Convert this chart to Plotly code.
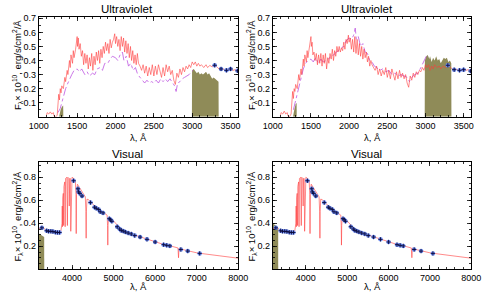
import plotly.graph_objects as go

# ---------------- Ultraviolet, left ----------------
uv1_red_wl = [1100,1110,1130,1150,1170,1190,1200,1220,1240,1250,1260,1270,1280,1290,1300,1320,1340,1350,1370,1380,
              1400,1410,1420,1440,1450,1460,1480,1500,1505,1515,1525,1540,1555,1570,1585,1600,1615,1630,1645,1660,
              1675,1690,1705,1720,1735,1750,1765,1780,1795,1810,1825,1840,1855,1870,1885,1900,1915,1930,1945,1960,
              1975,1990,2000,2015,2030,2045,2060,2075,2090,2105,2120,2135,2150,2165,2180,2195,2210,2225,2240,2255,
              2270,2285,2300,2320,2340,2360,2380,2400,2420,2440,2460,2480,2500,2520,2540,2560,2580,2600,2620,2640,
              2660,2680,2700,2720,2740,2760,2780,2800,2820,2840,2860,2880,2900,2920,2940,2960,2980,3000,3020,3040,
              3060,3080,3100,3120,3150,3180,3200,3230,3260,3300,3330,3360,3400,3430,3460,3500,3530,3560,3600]
uv1_red_fl = [0.01,0.03,0.02,0.035,0.02,0.03,0.005,0.0,0.01,0.10,0.16,0.12,0.20,0.17,0.22,0.20,0.28,0.25,0.33,0.30,
              0.40,0.35,0.44,0.38,0.47,0.42,0.48,0.57,0.50,0.56,0.48,0.52,0.43,0.47,0.37,0.45,0.38,0.44,0.34,0.42,
              0.36,0.45,0.33,0.43,0.37,0.46,0.40,0.47,0.38,0.48,0.42,0.50,0.45,0.53,0.47,0.52,0.45,0.55,0.49,0.53,
              0.55,0.59,0.52,0.57,0.50,0.55,0.47,0.57,0.50,0.56,0.46,0.54,0.45,0.52,0.42,0.50,0.40,0.47,0.38,0.44,
              0.37,0.45,0.38,0.36,0.33,0.37,0.31,0.36,0.29,0.35,0.30,0.37,0.29,0.36,0.30,0.37,0.32,0.28,0.35,0.29,
              0.37,0.32,0.36,0.30,0.33,0.26,0.23,0.31,0.28,0.34,0.30,0.35,0.32,0.36,0.34,0.37,0.35,0.39,0.37,0.39,
              0.36,0.38,0.36,0.37,0.35,0.37,0.35,0.365,0.355,0.365,0.35,0.335,0.34,0.33,0.335,0.34,0.33,0.335,0.325]
uv1_pur_wl = [1250,1280,1300,1320,1350,1380,1400,1430,1460,1500,1530,1560,1600,1630,1660,1700,1730,1760,1800,1830,
              1860,1900,1930,1960,2000,2030,2060,2090,2110,2140,2170,2200,2230,2260,2290,2320,2350,2380,2410,2440,
              2470,2500,2530,2560,2590,2620,2650,2680,2710,2740,2770,2790,2810,2840,2870,2900,2930,2960,2990,3010]
uv1_pur_fl = [0.03,0.06,0.10,0.14,0.20,0.24,0.27,0.30,0.33,0.34,0.32,0.34,0.30,0.32,0.29,0.31,0.30,0.34,0.35,0.33,
              0.38,0.38,0.41,0.43,0.42,0.40,0.44,0.46,0.40,0.43,0.36,0.38,0.33,0.35,0.30,0.28,0.26,0.24,0.26,0.24,
              0.25,0.24,0.26,0.24,0.27,0.25,0.27,0.25,0.27,0.24,0.22,0.18,0.24,0.25,0.27,0.28,0.29,0.30,0.32,0.33]
uv1_olA_wl = [1265,1270,1285,1300,1318,1320]
uv1_olA_fl = [0.0,0.02,0.05,0.07,0.08,0.0]
uv1_olB_wl = [2996,2998,3020,3040,3060,3080,3100,3120,3140,3160,3180,3200,3220,3240,3260,3280,3300,3320,3343,3345]
uv1_olB_fl = [0.0,0.33,0.34,0.32,0.31,0.32,0.30,0.31,0.30,0.31,0.32,0.30,0.31,0.29,0.27,0.28,0.27,0.26,0.25,0.0]

# ---------------- Ultraviolet, right ----------------
uv2_red_wl = uv1_red_wl
uv2_red_fl = [0.01,0.03,0.02,0.04,0.02,0.03,0.005,0.0,0.02,0.12,0.18,0.13,0.20,0.18,0.23,0.20,0.30,0.26,0.34,0.30,
              0.41,0.36,0.44,0.39,0.47,0.42,0.49,0.57,0.50,0.53,0.44,0.46,0.40,0.45,0.37,0.44,0.38,0.45,0.36,0.44,
              0.38,0.45,0.34,0.42,0.38,0.45,0.41,0.48,0.40,0.47,0.43,0.50,0.46,0.50,0.46,0.49,0.47,0.53,0.48,0.55,
              0.52,0.58,0.53,0.56,0.48,0.55,0.46,0.57,0.45,0.55,0.44,0.52,0.43,0.50,0.41,0.48,0.42,0.46,0.39,0.43,
              0.36,0.40,0.37,0.35,0.33,0.36,0.30,0.34,0.29,0.33,0.30,0.35,0.28,0.33,0.27,0.34,0.30,0.26,0.32,0.27,
              0.33,0.28,0.31,0.27,0.30,0.24,0.21,0.29,0.26,0.31,0.28,0.32,0.30,0.33,0.32,0.35,0.33,0.37,0.35,0.37,
              0.33,0.36,0.34,0.37,0.35,0.36,0.34,0.36,0.35,0.365,0.35,0.335,0.34,0.33,0.335,0.34,0.33,0.335,0.325]
uv2_pur_wl = [1270,1300,1330,1360,1400,1430,1460,1500,1530,1560,1600,1630,1660,1700,1730,1760,1800,1830,1860,1900,
              1930,1960,2000,2030,2060,2080,2095,2120,2150,2180,2210,2240,2270,2300,2330,2360,2400,2440,2480,2520,
              2560,2600,2640,2680,2720,2760,2790,2820,2860,2900,2940,2970,2990,3010]
uv2_pur_fl = [0.05,0.12,0.20,0.27,0.34,0.38,0.40,0.41,0.39,0.42,0.38,0.41,0.39,0.40,0.41,0.43,0.44,0.46,0.47,0.49,
              0.50,0.54,0.56,0.55,0.58,0.63,0.55,0.57,0.50,0.52,0.46,0.45,0.40,0.39,0.36,0.35,0.33,0.34,0.32,0.33,
              0.30,0.31,0.29,0.30,0.29,0.28,0.25,0.28,0.30,0.31,0.35,0.38,0.41,0.43]
uv2_olA_wl = [1265,1272,1285,1300,1312,1314]
uv2_olA_fl = [0.0,0.03,0.06,0.09,0.10,0.0]
uv2_olB_wl = [2990,2992,3010,3030,3050,3060,3080,3100,3120,3140,3160,3180,3200,3220,3240,3260,3280,3300,3320,3338,3340]
uv2_olB_fl = [0.0,0.40,0.43,0.44,0.41,0.43,0.39,0.42,0.40,0.43,0.40,0.41,0.38,0.40,0.42,0.41,0.42,0.39,0.40,0.38,0.0]

# photometric points, UV
uv_pts_wl = [3293,3376,3446,3500,3591]
uv1_pts_fl = [0.366,0.34,0.33,0.34,0.327]
uv2_pts_fl = [0.366,0.335,0.33,0.335,0.325]

# ---------------- Visual ----------------
vis_red_wl = [3200,3250,3300,3350,3400,3450,3500,3550,3600,3650,3700,3730,3750,3760,3765,3771,3778,3790,3798,3806,
              3825,3835,3845,3875,3889,3900,3925,3934,3945,3960,3970,3982,4000,4040,4080,4095,4101,4108,4130,4200,
              4280,4320,4334,4340,4346,4360,4400,4500,4600,4700,4800,4845,4855,4861,4867,4880,4950,5000,5100,5200,
              5300,5400,5500,5600,5800,6000,6200,6400,6500,6550,6563,6575,6700,6800,7000,7200,7500,7800,8000]
vis_red_fl = [0.35,0.36,0.37,0.345,0.34,0.338,0.335,0.332,0.328,0.325,0.322,0.33,0.36,0.40,0.55,0.37,0.62,0.66,0.38,0.72,
              0.76,0.37,0.79,0.80,0.38,0.80,0.79,0.55,0.79,0.79,0.33,0.80,0.80,0.79,0.77,0.65,0.31,0.65,0.74,0.70,
              0.66,0.63,0.50,0.27,0.50,0.61,0.605,0.565,0.535,0.51,0.48,0.47,0.38,0.21,0.38,0.45,0.44,0.42,0.375,0.34,
              0.322,0.31,0.295,0.283,0.26,0.24,0.216,0.20,0.19,0.185,0.10,0.183,0.168,0.158,0.143,0.133,0.118,0.105,0.096]
vis_pts_wl = [3275,3390,3435,3490,3540,3600,3650,3700,4038,4143,4158,4189,4241,4445,4543,4581,4641,4679,4747,4898,
              4928,4958,5087,5147,5185,5230,5283,5351,5426,5509,5638,5804,6000,6204,6279,6355,6619,6785,7072]
vis_pts_fl = [0.36,0.335,0.33,0.33,0.328,0.322,0.32,0.32,0.77,0.70,0.673,0.66,0.637,0.58,0.54,0.53,0.52,0.50,0.49,0.44,
              0.43,0.417,0.37,0.35,0.338,0.332,0.324,0.315,0.307,0.293,0.28,0.26,0.237,0.214,0.208,0.203,0.172,0.158,0.138]
vis1_ol_wl = [3200,3330,3332]
vis1_ol_fl = [0.31,0.28,0.0]
vis2_ol_wl = [3200,3330,3332]
vis2_ol_fl = [0.40,0.36,0.0]

RED = "rgb(255,60,60)"
PUR = "rgb(190,85,225)"
OLIVE = "rgb(143,139,88)"
BLUE = "rgb(110,140,240)"

fig = go.Figure()

def olive(x, y, ax):
    fig.add_trace(go.Scatter(x=x, y=y, mode="lines", fill="tozeroy", fillcolor=OLIVE,
                             line=dict(width=0, color=OLIVE), xaxis="x" + ax, yaxis="y" + ax,
                             showlegend=False, hoverinfo="skip"))

def line(x, y, ax, color, dash="solid", w=0.6):
    fig.add_trace(go.Scatter(x=x, y=y, mode="lines", line=dict(color=color, width=w, dash=dash),
                             xaxis="x" + ax, yaxis="y" + ax, showlegend=False))

def pts(x, y, ax):
    fig.add_trace(go.Scatter(x=x, y=y, mode="markers",
                             marker=dict(symbol="circle", size=4.5, color=BLUE),
                             xaxis="x" + ax, yaxis="y" + ax, showlegend=False))
    fig.add_trace(go.Scatter(x=x, y=y, mode="markers",
                             marker=dict(symbol="cross-thin", size=3, line=dict(color="rgb(10,10,60)", width=0.9)),
                             xaxis="x" + ax, yaxis="y" + ax, showlegend=False))

# panel 1
olive(uv1_olA_wl, uv1_olA_fl, "")
olive(uv1_olB_wl, uv1_olB_fl, "")
line(uv1_pur_wl, uv1_pur_fl, "", PUR, "dashdot", 0.8)
line(uv1_red_wl, uv1_red_fl, "", RED)
pts(uv_pts_wl, uv1_pts_fl, "")
# panel 2
olive(uv2_olA_wl, uv2_olA_fl, "2")
olive(uv2_olB_wl, uv2_olB_fl, "2")
line(uv2_pur_wl, uv2_pur_fl, "2", PUR, "dashdot", 0.8)
line(uv2_red_wl, uv2_red_fl, "2", RED)
pts(uv_pts_wl, uv2_pts_fl, "2")
# panel 3
olive(vis1_ol_wl, vis1_ol_fl, "3")
line(vis_red_wl, vis_red_fl, "3", RED)
pts(vis_pts_wl, vis_pts_fl, "3")
# panel 4
olive(vis2_ol_wl, vis2_ol_fl, "4")
line(vis_red_wl, vis_red_fl, "4", RED)
pts(vis_pts_wl, vis_pts_fl, "4")

W, H = 488, 293
FONT = "Liberation Sans, Arial, sans-serif"

def xax(dom, rng, tv, minor_dt, anchor):
    return dict(domain=dom, range=rng, tickvals=tv, ticktext=[str(v) for v in tv],
                ticks="inside", ticklen=4, tickwidth=0.8, tickcolor="black",
                minor=dict(ticks="inside", ticklen=2, dtick=minor_dt, tickcolor="black", tickwidth=0.8),
                showline=True, linecolor="black", linewidth=1, mirror="allticks",
                showgrid=False, zeroline=False, anchor=anchor, fixedrange=True,
                tickfont=dict(size=9, family=FONT, color="black"))

def yax(dom, rng, tv, fmt, minor_dt, anchor):
    return dict(domain=dom, range=rng, tickvals=tv, ticktext=[fmt.format(v) for v in tv],
                ticks="inside", ticklen=4, tickwidth=0.8, tickcolor="black",
                minor=dict(ticks="inside", ticklen=2, dtick=minor_dt, tickcolor="black", tickwidth=0.8),
                showline=True, linecolor="black", linewidth=1, mirror="allticks",
                showgrid=False, zeroline=False, anchor=anchor, fixedrange=True,
                tickfont=dict(size=9, family=FONT, color="black"))

uv_xt = [1000, 1500, 2000, 2500, 3000, 3500]
uv_yt = [0.1, 0.2, 0.3, 0.4, 0.5, 0.6, 0.7]
vis_xt = [4000, 5000, 6000, 7000, 8000]
vis_yt = [0.2, 0.4, 0.6, 0.8]

top = [1 - 115 / H, 1 - 14 / H]
bot = [1 - 269 / H, 1 - 161 / H]
left = [30 / W, 238 / W]
right = [274 / W, 481 / W]

fig.update_layout(
    width=W, height=H, margin=dict(l=0, r=0, t=0, b=0),
    paper_bgcolor="white", plot_bgcolor="white", hovermode=False,
    xaxis=xax(left, [1000, 3600], uv_xt, 100, "y"),
    yaxis=yax(top, [0, 0.71], uv_yt, "{:.1f}", 0.05, "x"),
    xaxis2=xax(right, [1000, 3600], uv_xt, 100, "y2"),
    yaxis2=yax(top, [0, 0.71], uv_yt, "{:.1f}", 0.05, "x2"),
    xaxis3=xax(left, [3200, 8000], vis_xt, 200, "y3"),
    yaxis3=yax(bot, [0, 0.93], vis_yt, "{:.1f}", 0.05, "x3"),
    xaxis4=xax(right, [3200, 8000], vis_xt, 200, "y4"),
    yaxis4=yax(bot, [0, 0.93], vis_yt, "{:.1f}", 0.05, "x4"),
)

ytitle = "F<sub>λ</sub>× 10<sup>10</sup>, erg/s/cm<sup>2</sup>/Å"
ann = []
def txt(x, y, t, size, angle=0):
    ann.append(dict(x=x / W, y=1 - y / H, xref="paper", yref="paper", text=t, showarrow=False,
                    textangle=angle, xanchor="center", yanchor="middle",
                    font=dict(size=size, family=FONT, color="black")))

txt(122, 6, "Ultraviolet", 11.5)
txt(372, 6, "Ultraviolet", 11.5)
txt(122, 153, "Visual", 11.5)
txt(372, 153, "Visual", 11.5)
txt(134, 136, "λ, Å", 9.5)
txt(378, 136, "λ, Å", 9.5)
txt(134, 286, "λ, Å", 9.5)
txt(378, 286, "λ, Å", 9.5)
txt(8, 63, ytitle, 9.5, -90)
txt(252, 63, ytitle, 9.5, -90)
txt(8, 216, ytitle, 9.5, -90)
txt(252, 216, ytitle, 9.5, -90)
fig.update_layout(annotations=ann)

fig.write_html("out.html", config={"displayModeBar": False, "staticPlot": True},
               post_script="document.body.style.margin='0';document.body.style.overflow='hidden';")
